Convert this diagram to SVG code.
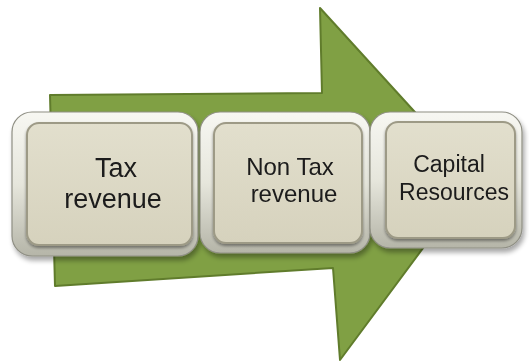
<svg xmlns="http://www.w3.org/2000/svg" width="529" height="364" viewBox="0 0 529 364">
<defs>
<linearGradient id="frame" x1="0" y1="0" x2="0" y2="1">
<stop offset="0" stop-color="#f7f7f2"/>
<stop offset="0.5" stop-color="#e6e6dc"/>
<stop offset="1" stop-color="#b5b5a8"/>
</linearGradient>
<linearGradient id="face" x1="0" y1="0" x2="0" y2="1">
<stop offset="0" stop-color="#e2dfcd"/>
<stop offset="1" stop-color="#d6d2bd"/>
</linearGradient>
<filter id="sh" x="-10%" y="-10%" width="130%" height="130%">
<feGaussianBlur in="SourceAlpha" stdDeviation="2.5"/>
<feOffset dx="2" dy="4" result="b"/>
<feComponentTransfer><feFuncA type="linear" slope="0.35"/></feComponentTransfer>
<feMerge><feMergeNode/><feMergeNode in="SourceGraphic"/></feMerge>
</filter>
<filter id="in" x="-10%" y="-10%" width="120%" height="120%">
<feGaussianBlur in="SourceAlpha" stdDeviation="1.5"/>
<feOffset dx="0" dy="2"/>
<feComponentTransfer><feFuncA type="linear" slope="0.4"/></feComponentTransfer>
<feMerge><feMergeNode/><feMergeNode in="SourceGraphic"/></feMerge>
</filter>
</defs>
<style>
.frame{fill:url(#frame);stroke:#8f8f84;stroke-width:1.2}
.face{fill:url(#face);stroke:#9d9a86;stroke-width:2}
.lbl{font-family:"Liberation Sans",Arial,sans-serif;fill:#1a1a1a;text-anchor:middle}
</style>
<g id="arrow">
<path d="M50,95 L322,93 L320,8 L475,178 L340,360 L333,268 L55,286 Z" fill="#80a044" stroke="#607c2c" stroke-width="2" stroke-linejoin="round"/>
</g>
<g id="connectors"></g>
<g id="node-tax" filter="url(#sh)">
<rect class="frame" x="12" y="112" width="186" height="144" rx="20"/>
<rect class="face" x="27" y="123" width="165" height="122" rx="12" filter="url(#in)"/>
<text class="lbl" font-size="27" x="116" y="177">Tax</text>
<text class="lbl" font-size="27" x="113" y="208">revenue</text>
</g>
<g id="node-nontax" filter="url(#sh)">
<rect class="frame" x="200" y="112" width="170" height="141" rx="20"/>
<rect class="face" x="214" y="123" width="148" height="120" rx="12" filter="url(#in)"/>
<text class="lbl" font-size="24" x="290" y="175">Non Tax</text>
<text class="lbl" font-size="24" x="294" y="202">revenue</text>
</g>
<g id="node-capital" filter="url(#sh)">
<rect class="frame" x="370" y="112" width="152" height="136" rx="20"/>
<rect class="face" x="386" y="122" width="129" height="116" rx="12" filter="url(#in)"/>
<text class="lbl" font-size="23" x="449" y="172">Capital</text>
<text class="lbl" font-size="23" x="454" y="200">Resources</text>
</g>
</svg>
